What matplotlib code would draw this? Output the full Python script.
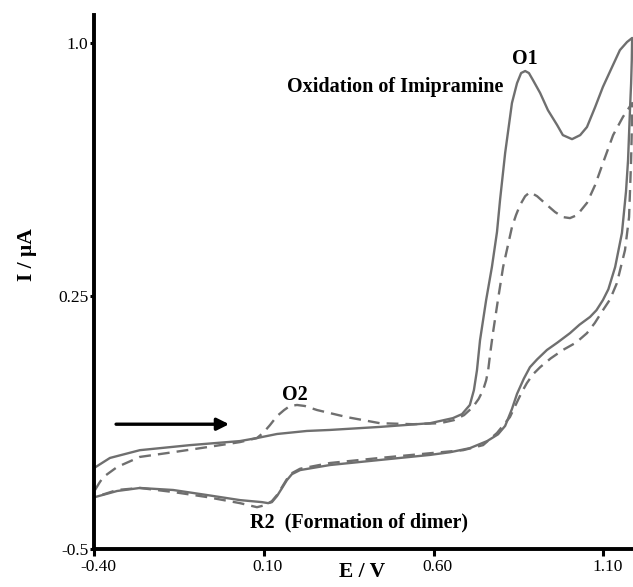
import matplotlib
matplotlib.use("Agg")
import matplotlib.pyplot as plt
from matplotlib.transforms import ScaledTranslation

plt.rcParams["font.family"] = ["Liberation Serif", "DejaVu Serif"]
plt.rcParams["axes.unicode_minus"] = False

# first scan (solid): anodic sweep then cathodic return
e_scan1 = [-0.400, -0.353, -0.265, -0.117, 0.030, 0.080, 0.139, 0.227, 0.295, 0.442,
           0.590, 0.657, 0.684, 0.707, 0.719, 0.728, 0.737, 0.755, 0.772, 0.787,
           0.796, 0.811, 0.831, 0.846, 0.858, 0.870, 0.881, 0.893, 0.914, 0.937,
           0.964, 0.981, 1.008, 1.032, 1.052, 1.076, 1.099, 1.126, 1.149, 1.170,
           1.185,
           1.184, 1.182, 1.179, 1.173, 1.167, 1.155, 1.135, 1.115, 1.099, 1.080,
           1.061, 1.030, 1.002, 0.965, 0.934, 0.905, 0.884, 0.866, 0.846, 0.831,
           0.811, 0.790, 0.758, 0.707, 0.649, 0.590, 0.442, 0.295, 0.207, 0.183,
           0.168, 0.154, 0.139, 0.124, 0.113, 0.095, 0.030, -0.067, -0.167, -0.265,
           -0.332, -0.397]
i_scan1 = [-0.260, -0.230, -0.207, -0.192, -0.180, -0.171, -0.159, -0.150, -0.147, -0.138,
           -0.127, -0.112, -0.100, -0.073, -0.029, 0.030, 0.119, 0.238, 0.336, 0.440,
           0.535, 0.674, 0.822, 0.881, 0.911, 0.917, 0.911, 0.890, 0.852, 0.801,
           0.757, 0.727, 0.715, 0.727, 0.751, 0.810, 0.870, 0.929, 0.979, 1.003,
           1.015,
           0.950, 0.880, 0.810, 0.653, 0.560, 0.437, 0.336, 0.270, 0.238, 0.208,
           0.188, 0.165, 0.140, 0.112, 0.090, 0.062, 0.039, 0.005, -0.040, -0.085,
           -0.135, -0.160, -0.180, -0.201, -0.213, -0.221, -0.236, -0.251, -0.266, -0.278,
           -0.296, -0.319, -0.343, -0.361, -0.364, -0.361, -0.355, -0.340, -0.325, -0.319,
           -0.328, -0.346]

# second scan (dashed)
e_scan2 = [-0.397, -0.385, -0.373, -0.332, -0.265, -0.167, -0.067, 0.030, 0.080, 0.098,
           0.118, 0.139, 0.160, 0.177, 0.198, 0.221, 0.257, 0.345, 0.442, 0.540,
           0.619, 0.660, 0.690, 0.716, 0.733, 0.746, 0.755, 0.761, 0.767, 0.775,
           0.790, 0.805, 0.831, 0.843, 0.855, 0.870, 0.884, 0.905, 0.934, 0.958,
           0.981, 1.002, 1.023, 1.052, 1.076, 1.099, 1.129, 1.158, 1.185,
           1.184, 1.182, 1.176, 1.164, 1.140, 1.120, 1.099, 1.075, 1.052, 1.020,
           0.981, 0.945, 0.914, 0.893, 0.875, 0.860, 0.849, 0.825, 0.787, 0.746,
           0.687, 0.590, 0.442, 0.295, 0.207, 0.183, 0.168, 0.154, 0.139, 0.124,
           0.104, 0.080, 0.030, -0.067, -0.167, -0.265, -0.332, -0.397]
i_scan2 = [-0.325, -0.305, -0.287, -0.257, -0.227, -0.213, -0.198, -0.183, -0.171, -0.156,
           -0.133, -0.106, -0.088, -0.076, -0.073, -0.076, -0.088, -0.109, -0.127, -0.130,
           -0.127, -0.118, -0.103, -0.079, -0.055, -0.029, 0.000, 0.030, 0.080, 0.140,
           0.240, 0.336, 0.454, 0.490, 0.520, 0.546, 0.558, 0.546, 0.520, 0.499,
           0.484, 0.481, 0.490, 0.526, 0.579, 0.644, 0.727, 0.781, 0.822,
           0.740, 0.653, 0.484, 0.386, 0.288, 0.240, 0.208, 0.170, 0.140, 0.112,
           0.090, 0.065, 0.039, 0.018, -0.008, -0.035, -0.058, -0.109, -0.156, -0.192,
           -0.207, -0.216, -0.230, -0.245, -0.262, -0.275, -0.293, -0.316, -0.340, -0.358,
           -0.370, -0.376, -0.364, -0.346, -0.331, -0.319, -0.325, -0.346]

x_ticks = [-0.40, 0.10, 0.60, 1.10]
x_labels = ["-0.40", "0.10", "0.60", "1.10"]
y_ticks = [1.0, 0.25, -0.5]
y_labels = ["1.0", "0.25", "-0.5"]

fig = plt.figure(figsize=(6.33, 5.87), dpi=100)
ax = fig.add_axes([0.1485, 0.0647, 0.8528, 0.9097])

grey = "#6f6f6f"
ax.plot(e_scan1, i_scan1, color=grey, lw=1.7, solid_joinstyle="round")
ax.plot(e_scan2, i_scan2, color=grey, lw=1.7, linestyle=(0, (5, 3)))

ax.set_xlim(-0.40, 1.19)
ax.set_ylim(-0.5, 1.083)
ax.set_xticks(x_ticks)
ax.set_xticklabels(x_labels)
ax.set_yticks(y_ticks)
ax.set_yticklabels(y_labels)

for side in ["top", "right"]:
    ax.spines[side].set_visible(False)
for side in ["left", "bottom"]:
    ax.spines[side].set_linewidth(2.8)
ax.tick_params(axis="x", direction="out", length=5, width=2.2, labelsize=12.5, pad=2)
ax.tick_params(axis="y", direction="out", length=3, width=2.2, labelsize=12.5, pad=1)

# nudge the x tick labels a little to the right of their ticks
shift = ScaledTranslation(4 / 100, 0, fig.dpi_scale_trans)
for lab in ax.get_xticklabels():
    lab.set_transform(lab.get_transform() + shift)

bold = dict(fontweight="bold", fontsize=14.5)
ax.text(0.805, 0.870, "Oxidation of Imipramine", ha="right", va="center", **bold)
ax.text(0.870, 0.953, "O1", ha="center", va="center", **bold)
ax.text(0.192, -0.044, "O2", ha="center", va="center", **bold)
ax.text(0.060, -0.420, "R2  (Formation of dimer)", ha="left", va="center", **bold)

ax.annotate("", xy=(-0.002, -0.130), xytext=(-0.335, -0.130),
            arrowprops=dict(arrowstyle="-|>", color="black", lw=2.4,
                            mutation_scale=18, shrinkA=0, shrinkB=0))

fig.text(0.0427, 0.5656, "I / μA", rotation=90, ha="center", va="center",
         fontweight="bold", fontsize=15.5)
fig.text(0.572, 0.0256, "E / V", ha="center", va="center",
         fontweight="bold", fontsize=15.5)

fig.savefig("out.png", dpi=100)
